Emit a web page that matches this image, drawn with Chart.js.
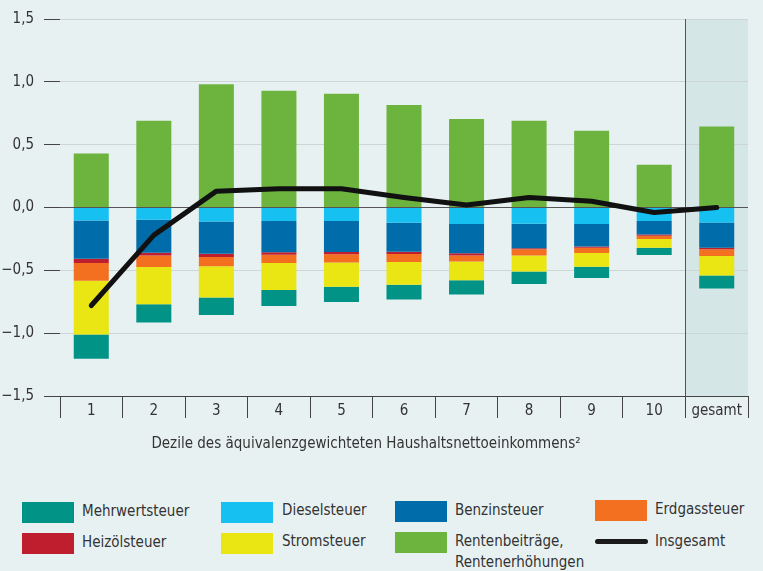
<!DOCTYPE html>
<html>
<head>
<meta charset="utf-8">
<script src="https://cdn.jsdelivr.net/npm/chart.js@4.4.1/dist/chart.umd.min.js"></script>
<style>
  body { margin: 0; background: #e8f1f2; }
  #wrap {
    position: relative; width: 763px; height: 571px; background: #e8f1f2;
    font-family: "Liberation Sans Narrow", "DejaVu Sans Condensed", "Open Sans", sans-serif;
    color: #333;
  }
  canvas { position: absolute; left: 0; top: 0; }
  .xtitle { position: absolute; top: 433px; left: 0; width: 732px; text-align: center; font-size: 15px; line-height: 20px; }
  .sw { position: absolute; width: 52px; height: 21px; }
  .ln { position: absolute; width: 53px; height: 5px; border-radius: 3px; background: #1a1a1a; }
  .lt { position: absolute; font-size: 15px; line-height: 21px; white-space: nowrap; }
</style>
</head>
<body>
<div id="wrap">
  <canvas id="chart" width="763" height="460"></canvas>
  <div class="xtitle">Dezile des äquivalenzgewichteten Haushaltsnettoeinkommens²</div>
  <div id="legend"></div>
</div>
<script>
const categories = ["1", "2", "3", "4", "5", "6", "7", "8", "9", "10", "gesamt"];
const yTicks = [-1.5, -1.0, -0.5, 0.0, 0.5, 1.0, 1.5];

// Beiträge je Dezil
const dieselsteuer  = [-0.103, -0.098, -0.111, -0.108, -0.108, -0.122, -0.132, -0.130, -0.132, -0.108, -0.119];
const benzinsteuer  = [-0.304, -0.262, -0.257, -0.249, -0.247, -0.230, -0.233, -0.195, -0.178, -0.106, -0.201];
const heizoelsteuer = [-0.035, -0.021, -0.026, -0.019, -0.018, -0.018, -0.016, -0.008, -0.010, -0.011, -0.013];
const erdgassteuer  = [-0.140, -0.093, -0.074, -0.066, -0.064, -0.064, -0.048, -0.048, -0.042, -0.026, -0.053];
const stromsteuer   = [-0.428, -0.296, -0.249, -0.214, -0.193, -0.180, -0.150, -0.129, -0.109, -0.069, -0.156];
const mehrwertsteuer= [-0.194, -0.145, -0.138, -0.127, -0.121, -0.119, -0.114, -0.099, -0.090, -0.058, -0.103];
const renten        = [0.43, 0.69, 0.98, 0.93, 0.905, 0.815, 0.705, 0.69, 0.61, 0.34, 0.645];
const insgesamt     = [-0.78, -0.22, 0.13, 0.15, 0.15, 0.08, 0.02, 0.08, 0.05, -0.04, 0.0];

const COLORS = {
  mwst: "#009386", diesel: "#16c1f2", benzin: "#006ca9", erdgas: "#f47021",
  heizoel: "#bf1e2e", strom: "#e9e613", renten: "#6db43f", total: "#111111",
};

function bar(label, data, color) {
  return {
    type: "bar", label, data, backgroundColor: color, stack: "s",
    barPercentage: 0.56, categoryPercentage: 1, order: 2,
  };
}

const fmt = v => (v < 0 ? "\u2212" : "") + Math.abs(v).toFixed(1).replace(".", ",");

const gesamtBand = {
  id: "gesamtBand",
  beforeDraw(chart) {
    const { ctx, chartArea, scales: { x } } = chart;
    const left = (x.getPixelForValue(9) + x.getPixelForValue(10)) / 2;
    ctx.save();
    ctx.fillStyle = "#d4e6e6";
    ctx.fillRect(left, chartArea.top, chartArea.right - left, chartArea.bottom - chartArea.top);
    ctx.restore();
  },
  beforeDatasetsDraw(chart) {
    const { ctx, chartArea, scales: { x } } = chart;
    const left = Math.round((x.getPixelForValue(9) + x.getPixelForValue(10)) / 2) + 0.5;
    ctx.save();
    ctx.strokeStyle = "#555";
    ctx.lineWidth = 1;
    ctx.beginPath();
    ctx.moveTo(left, chartArea.top);
    ctx.lineTo(left, chartArea.bottom);
    ctx.stroke();
    ctx.restore();
  },
};

const fontFamily = '"Liberation Sans Narrow", "DejaVu Sans Condensed", "Open Sans", sans-serif';

new Chart(document.getElementById("chart"), {
  data: {
    labels: categories,
    datasets: [
      {
        type: "line", label: "Insgesamt", data: insgesamt, stack: "total",
        borderColor: COLORS.total, borderWidth: 5, pointRadius: 0,
        borderCapStyle: "round", borderJoinStyle: "round", tension: 0, order: 0,
      },
      bar("Dieselsteuer", dieselsteuer, COLORS.diesel),
      bar("Benzinsteuer", benzinsteuer, COLORS.benzin),
      bar("Heizölsteuer", heizoelsteuer, COLORS.heizoel),
      bar("Erdgassteuer", erdgassteuer, COLORS.erdgas),
      bar("Stromsteuer", stromsteuer, COLORS.strom),
      bar("Mehrwertsteuer", mehrwertsteuer, COLORS.mwst),
      bar("Rentenbeiträge, Rentenerhöhungen", renten, COLORS.renten),
    ],
  },
  options: {
    responsive: false,
    animation: false,
    layout: { padding: { top: 18, right: 15, left: 0, bottom: 0 } },
    plugins: { legend: { display: false }, tooltip: { enabled: false } },
    scales: {
      x: {
        stacked: true,
        offset: true,
        afterFit(scale) { scale.height = 64; },
        grid: {
          offset: true, drawOnChartArea: false, drawTicks: true,
          tickLength: 22, tickColor: "#444", tickWidth: 1,
        },
        border: { display: true, color: "#444" },
        ticks: { color: "#333", padding: -16, font: { family: fontFamily, size: 15 } },
      },
      y: {
        stacked: true,
        min: -1.5, max: 1.5,
        afterFit(scale) { scale.width = 60; },
        afterBuildTicks(scale) { scale.ticks = yTicks.map(v => ({ value: v })); },
        border: { display: false },
        grid: {
          color: c => (c.tick && (c.tick.value === 0 || c.tick.value === -1.5)) ? "#555" : "#cdd5d7",
          lineWidth: 1,
          tickLength: 16, tickColor: "#444",
        },
        ticks: {
          color: "#333", padding: 10,
          font: { family: fontFamily, size: 15 },
          callback: v => fmt(v),
        },
      },
    },
  },
  plugins: [gesamtBand],
});

// Legende
const legendItems = [
  { label: "Mehrwertsteuer", color: COLORS.mwst, bx: 22, by: 502, tx: 82, ty: 501 },
  { label: "Heizölsteuer", color: COLORS.heizoel, bx: 22, by: 533, tx: 82, ty: 532 },
  { label: "Dieselsteuer", color: COLORS.diesel, bx: 221, by: 502, tx: 282, ty: 500 },
  { label: "Stromsteuer", color: COLORS.strom, bx: 221, by: 533, tx: 282, ty: 531 },
  { label: "Benzinsteuer", color: COLORS.benzin, bx: 395, by: 501, tx: 455, ty: 500 },
  { label: "Rentenbeiträge,<br>Rentenerhöhungen", color: COLORS.renten, bx: 395, by: 532, tx: 455, ty: 531 },
  { label: "Erdgassteuer", color: COLORS.erdgas, bx: 595, by: 500, tx: 655, ty: 499 },
  { label: "Insgesamt", line: true, bx: 595, by: 539, tx: 655, ty: 531 },
];
const legend = document.getElementById("legend");
for (const it of legendItems) {
  const sw = document.createElement("div");
  sw.className = it.line ? "ln" : "sw";
  sw.style.left = it.bx + "px";
  sw.style.top = it.by + "px";
  if (!it.line) sw.style.background = it.color;
  legend.appendChild(sw);
  const t = document.createElement("div");
  t.className = "lt";
  t.style.left = it.tx + "px";
  t.style.top = it.ty + "px";
  t.innerHTML = it.label;
  legend.appendChild(t);
}
</script>
</body>
</html>
